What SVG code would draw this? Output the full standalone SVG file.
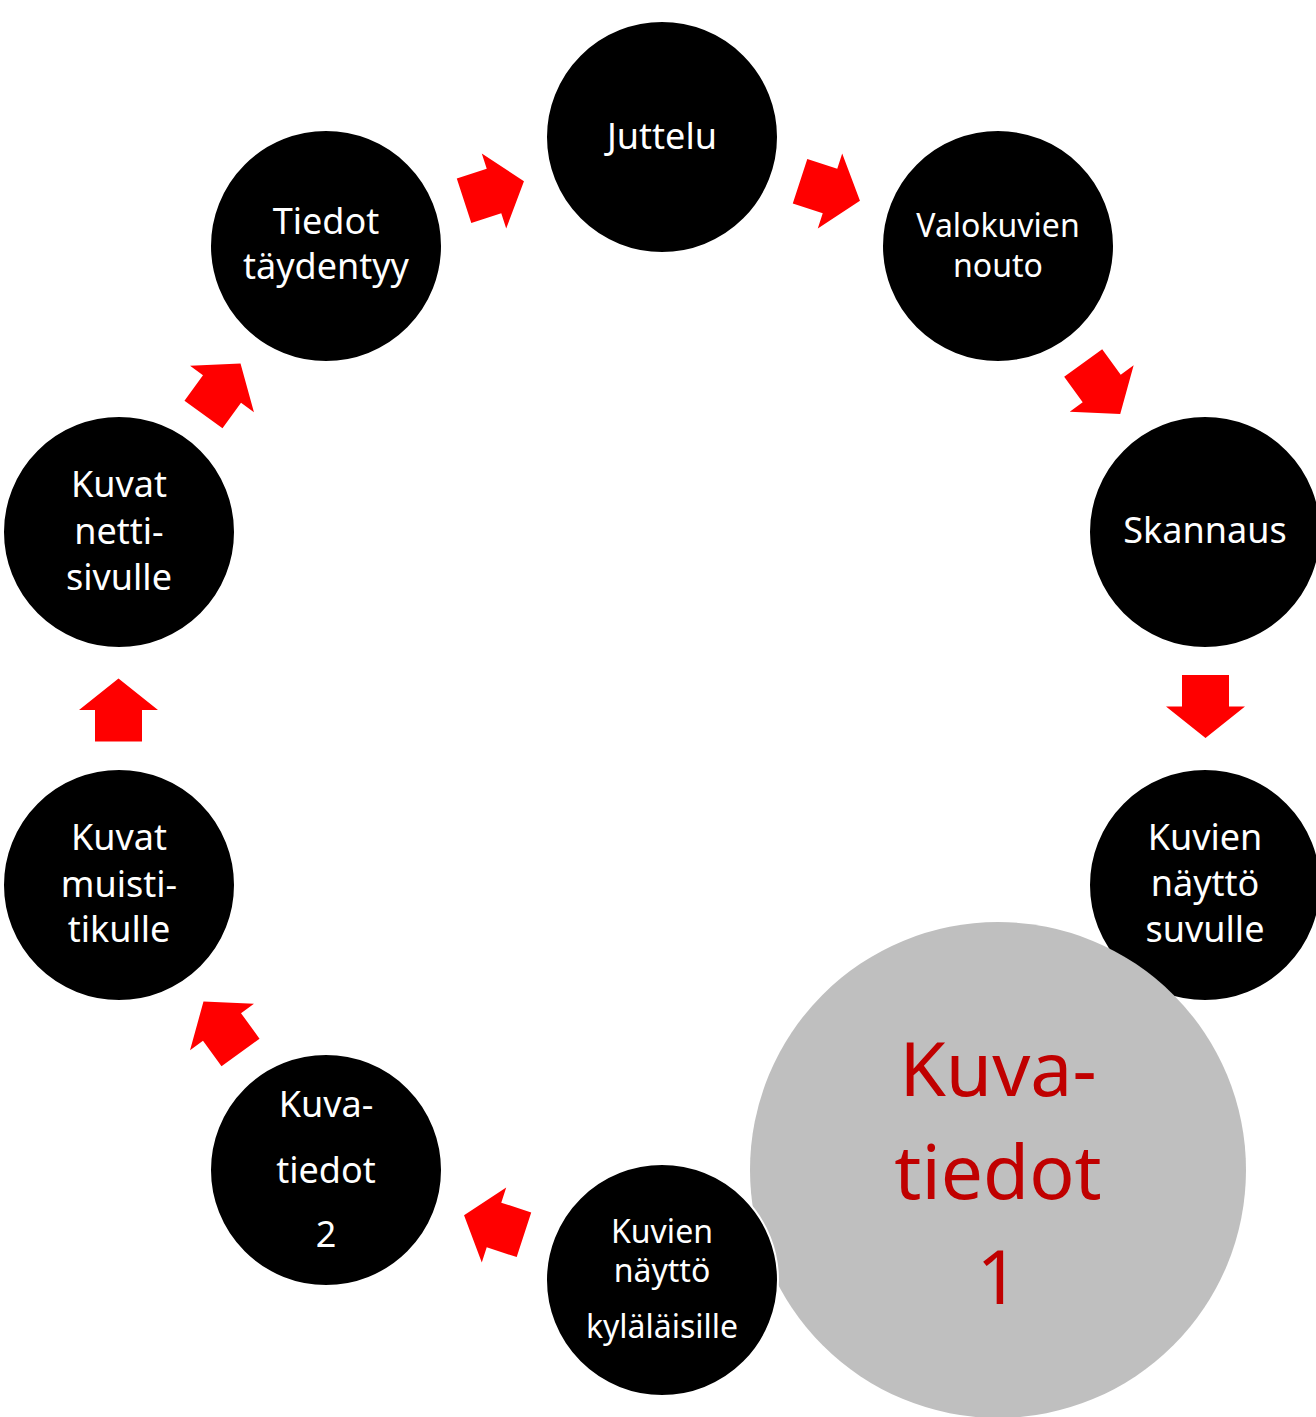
<svg xmlns="http://www.w3.org/2000/svg" width="1316" height="1417" viewBox="0 0 1316 1417">
<style>
.node{fill:#000;stroke:#fff;stroke-width:2}
.t{font-family:"Noto Sans","Liberation Sans",sans-serif;fill:#fff;text-anchor:middle;font-size:36px}
.s{font-size:32px}
.big{font-family:"Noto Sans","Liberation Sans",sans-serif;fill:#C00000;text-anchor:middle;font-size:75px}
.arr{fill:#FF0000}
</style>
<defs>
<path id="arrow" d="M-31.5,-23.5 H0 V-39.5 L31.5,0 L0,39.5 V23.5 H-31.5 Z"/>
</defs>
<rect width="1316" height="1417" fill="#fff"/>
<g id="connectors" class="arr">
<use href="#arrow" transform="translate(830,191) rotate(18)"/>
<use href="#arrow" transform="translate(1101.7,388.5) rotate(54)"/>
<use href="#arrow" transform="translate(1205.5,706.5) rotate(90)"/>
<use href="#arrow" transform="translate(494,1225) rotate(198)"/>
<use href="#arrow" transform="translate(222,1027) rotate(234)"/>
<use href="#arrow" transform="translate(118.5,710) rotate(270)"/>
<use href="#arrow" transform="translate(222,389) rotate(306)"/>
<use href="#arrow" transform="translate(494,191) rotate(342)"/>
</g>
<g id="juttelu"><circle class="node" cx="662" cy="137" r="116"/><text class="t" x="662" y="149">Juttelu</text></g>
<g id="valokuvien-nouto"><circle class="node" cx="998" cy="246" r="116"/><text class="t s" x="998" y="237">Valokuvien</text><text class="t s" x="998" y="277">nouto</text></g>
<g id="skannaus"><circle class="node" cx="1205" cy="532" r="116"/><text class="t" x="1205" y="543">Skannaus</text></g>
<g id="kuvien-naytto-suvulle"><circle class="node" cx="1205" cy="885" r="116"/><text class="t" x="1205" y="850">Kuvien</text><text class="t" x="1205" y="896">näyttö</text><text class="t" x="1205" y="942">suvulle</text></g>
<g id="kuvatiedot-1"><circle cx="998" cy="1170" r="248" fill="#BFBFBF"/><text class="big" x="998" y="1096">Kuva-</text><text class="big" x="998" y="1199">tiedot</text><text class="big" x="998" y="1304">1</text></g>
<g id="kuvien-naytto-kylalaisille"><circle class="node" cx="662" cy="1280" r="116"/><text class="t s" x="662" y="1243">Kuvien</text><text class="t s" x="662" y="1282">näyttö</text><text class="t s" x="662" y="1338">kyläläisille</text></g>
<g id="kuvatiedot-2"><circle class="node" cx="326" cy="1170" r="116"/><text class="t" x="326" y="1117">Kuva-</text><text class="t" x="326" y="1183">tiedot</text><text class="t" x="326" y="1247">2</text></g>
<g id="kuvat-muistitikulle"><circle class="node" cx="119" cy="885" r="116"/><text class="t" x="119" y="850">Kuvat</text><text class="t" x="119" y="897">muisti-</text><text class="t" x="119" y="942">tikulle</text></g>
<g id="kuvat-nettisivulle"><circle class="node" cx="119" cy="532" r="116"/><text class="t" x="119" y="497">Kuvat</text><text class="t" x="119" y="544">netti-</text><text class="t" x="119" y="590">sivulle</text></g>
<g id="tiedot-taydentyy"><circle class="node" cx="326" cy="246" r="116"/><text class="t" x="326" y="234">Tiedot</text><text class="t" x="326" y="279">täydentyy</text></g>
</svg>
